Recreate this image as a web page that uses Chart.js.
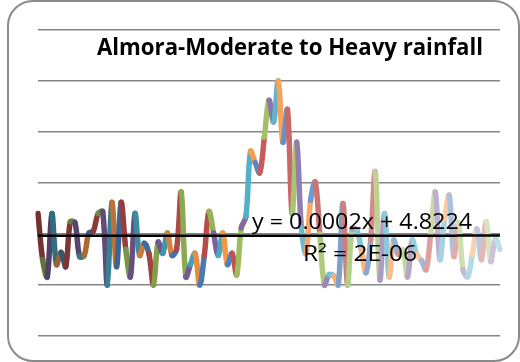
<!DOCTYPE html>
<html>
<head>
<meta charset="utf-8">
<script src="https://cdn.jsdelivr.net/npm/chart.js@4"></script>
<style>
html,body{margin:0;padding:0;background:#ffffff;}
#wrap{width:520px;height:362px;position:relative;}
</style>
</head>
<body>
<div id="wrap"><canvas id="c" width="520" height="362"></canvas></div>
<script>
// ---- data ----
const chartTitle = "Almora-Moderate to Heavy rainfall";
const equationText = "y = 0.0002x + 4.8224";
const r2Text = "R² = 2E-06";
const rainfall = [
  7.0, 2.5, 0.8, 7.0, 2.0, 3.2, 1.8, 6.2, 6.1, 2.8,
  2.9, 5.1, 5.3, 7.0, 7.2, 0.0, 8.1, 1.8, 8.1, 3.5,
  0.8, 7.0, 2.9, 4.1, 3.1, 0.0, 4.2, 3.1, 5.1, 2.9,
  3.5, 9.1, 0.8, 2.0, 3.1, 0.0, 2.9, 7.2, 5.1, 2.9,
  5.1, 2.0, 3.1, 1.0, 5.6, 6.7, 13.1, 12.0, 11.0, 14.5,
  18.1, 16.0, 20.0, 14.0, 17.2, 7.0, 14.0, 5.6, 3.1, 8.3,
  10.1, 5.0, 0.0, 1.0, 0.9, 0.0, 8.0, 0.0, 5.5, 5.4,
  3.4, 1.2, 4.4, 11.1, 0.5, 7.0, 0.8, 4.4, 3.0, 3.4,
  0.8, 4.4, 3.0, 2.4, 1.5, 5.0, 9.1, 2.5, 6.4, 8.8,
  2.8, 6.1, 1.5, 0.8, 3.0, 5.5, 2.5, 6.2, 2.3, 4.5,
  3.5
];
const categories = rainfall.map((v, i) => i + 1);
const trendSlope = 0.0002;
const trendIntercept = 4.8224;
const yTicks = [-5, 0, 5, 10, 15, 20, 25];

// trendline built from the displayed equation
const trendValues = categories.map(x => trendIntercept + trendSlope * x);

// Excel 2010 accent palette, varied by point
const accents = ['#4F81BD', '#C0504D', '#9BBB59', '#8064A2', '#4BACC6', '#F79646'];
function vary(hex, f) {
  const n = parseInt(hex.slice(1), 16);
  let r = (n >> 16) & 255, g = (n >> 8) & 255, b = n & 255;
  if (f < 0) { r *= (1 + f); g *= (1 + f); b *= (1 + f); }
  else { r += (255 - r) * f; g += (255 - g) * f; b += (255 - b) * f; }
  return 'rgb(' + Math.round(r) + ',' + Math.round(g) + ',' + Math.round(b) + ')';
}
function segColor(i) {
  const t = i / (rainfall.length - 1);
  const f = t < 0.42 ? -0.4 * (1 - t / 0.42) : 0.62 * ((t - 0.42) / 0.58);
  return vary(accents[i % 6], f);
}

const FONT = "'Open Sans', 'Noto Sans', sans-serif";
// draw text with a given font size, squeezed horizontally to span x0..x1
function fitText(ctx, text, weight, size, x0, x1, baseline) {
  ctx.save();
  ctx.font = weight + " " + size + "px " + FONT;
  ctx.textAlign = 'center';
  ctx.textBaseline = 'alphabetic';
  ctx.fillStyle = '#000000';
  const w = ctx.measureText(text).width;
  const sx = (x1 - x0) / w;
  ctx.translate((x0 + x1) / 2, baseline);
  ctx.scale(sx, 1);
  ctx.fillText(text, 0, 0);
  ctx.restore();
}

const framePlugin = {
  id: 'frame',
  beforeDraw(chart) {
    const c = chart.ctx;
    c.save();
    c.fillStyle = '#ffffff';
    c.fillRect(0, 0, chart.width, chart.height);
    c.restore();
  },
  afterDraw(chart) {
    const c = chart.ctx;
    c.save();
    c.strokeStyle = '#8a8a8a';
    c.lineWidth = 2;
    c.beginPath();
    c.roundRect(8, 1, 511, 360, 25);
    c.stroke();
    fitText(c, chartTitle, 'bold', 23, 97, 483, 55);
    fitText(c, equationText, 'normal', 22, 252, 472, 229);
    fitText(c, r2Text, 'normal', 22, 303, 417, 261);
    c.restore();
  }
};

new Chart(document.getElementById('c'), {
  type: 'line',
  data: {
    labels: categories,
    datasets: [
      {
        label: 'Linear (trend)',
        data: trendValues,
        borderColor: '#000000',
        borderWidth: 2.5,
        pointRadius: 0,
        tension: 0,
        fill: false,
        order: 0
      },
      {
        label: 'Moderate to Heavy rainfall',
        data: rainfall,
        borderColor: accents[0],
        borderWidth: 5.5,
        pointRadius: 0,
        tension: 0.35,
        fill: false,
        borderCapStyle: 'round',
        borderJoinStyle: 'round',
        segment: {
          borderColor: ctx => segColor(ctx.p1DataIndex)
        },
        order: 1
      }
    ]
  },
  options: {
    responsive: false,
    animation: false,
    devicePixelRatio: 1,
    layout: { padding: { left: 38, right: 20, top: 30, bottom: 26 } },
    plugins: {
      legend: { display: false },
      title: { display: false },
      tooltip: { enabled: false }
    },
    scales: {
      x: {
        type: 'category',
        offset: false,
        grid: { display: false, drawTicks: false },
        border: { display: false },
        ticks: { display: false },
        afterFit: s => { s.height = 0; }
      },
      y: {
        min: yTicks[0],
        max: yTicks[yTicks.length - 1],
        grid: { color: '#868686', lineWidth: 1.6, drawTicks: false },
        border: { display: false },
        ticks: { display: false, stepSize: yTicks[1] - yTicks[0] },
        afterFit: s => { s.width = 0; }
      }
    }
  },
  plugins: [framePlugin]
});
</script>
</body>
</html>
